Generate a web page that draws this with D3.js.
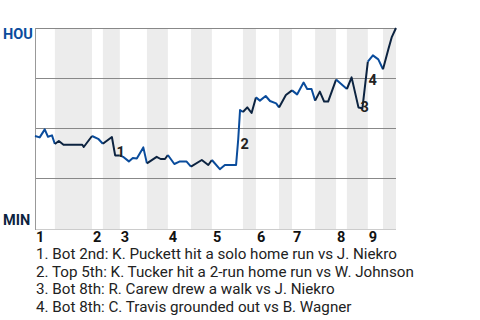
<!DOCTYPE html>
<html>
<head>
<meta charset="utf-8">
<script src="https://cdn.jsdelivr.net/npm/d3@7"></script>
<style>
  body { margin: 0; background: #fff; }
  text { font-family: Roboto, "Noto Sans", sans-serif; }
</style>
</head>
<body>
<div id="chart"></div>
<script>
(function() {
	// game progress (% of the game) and Houston win probability (%) for each play
	var progress = [
		0, 1.3, 2.7, 3.6, 4.7, 5.5,
		6.6, 7.9, 10.5, 13.1, 13.5, 15.8,
		17.5, 18.8,
		21.3, 22.2, 23.5,
		24.4, 26.0, 27.1, 28.2, 30.0, 31.0,
		33.7, 34.8, 36.0, 36.8,
		38.6, 40.0, 42.0, 43.2,
		46.2, 48.0, 49.0,
		51.2, 52.6, 55.7, 56.3, 56.8, 57.6,
		58.8, 60.0, 61.2,
		62.3, 63.9, 65.1, 66.8, 67.6,
		69.5, 71.2,
		72.6, 74.4, 75.4, 76.6, 77.6,
		78.9, 80.1, 81.2, 83.4,
		84.5, 86.4,
		87.7, 89.6, 90.7, 92.2,
		93.6, 95.1, 96.4,
		97.9, 98.8, 100
	];
	var houWinProb = [
		46, 45.3, 49.3, 45.6, 46.3, 42,
		43.5, 41.6, 41.6, 41.6, 40.5, 46,
		44.6, 42.1,
		45.5, 36.3, 36.3,
		35.6, 33.3, 35, 34.8, 40.3, 32.3,
		35.6, 34.5, 34.5, 36.5,
		32, 33.2, 33.2, 30.7,
		34, 31.5, 34,
		29.4, 31.5, 31.5, 44.5, 59, 58,
		60.3, 57.5, 65.3,
		63.7, 66, 63.5, 62.3, 60.3,
		66.5, 68.8,
		66.8, 72.7, 69.5, 69.5, 63.7,
		68.2, 63.2, 63.2, 74.2,
		72.5, 69.5,
		75.3, 60.3, 59.9, 83.2,
		86.3, 84.3, 79.4,
		89.5, 95.3, 100
	];

	// start of every half inning (top 1st, bot 1st, top 2nd ...), in game progress
	var halfInningStarts = [0, 5.5, 15.8, 18.8, 23.5, 31.0, 36.8, 43.2, 49.0,
		57.6, 61.2, 67.6, 71.2, 77.6, 83.4, 86.4, 92.2, 96.4];
	var inningLabels = ["1", "2", "3", "4", "5", "6", "7", "8", "9"];

	var gridTicks = [25, 50, 75, 100];

	var noteLabels = ["1", "2", "3", "4"];
	var noteProgress = [22.6, 56.9, 90.2, 92.4];
	var noteWinProb = [35.5, 39.5, 58.2, 71.5];
	var noteTexts = [
		"1. Bot 2nd: K. Puckett hit a solo home run vs J. Niekro",
		"2. Top 5th: K. Tucker hit a 2-run home run vs W. Johnson",
		"3. Bot 8th: R. Carew drew a walk vs J. Niekro",
		"4. Bot 8th: C. Travis grounded out vs B. Wagner"
	];

	var houColor = "#0a4c9c",
		minColor = "#0c2340";

	var margin = { top: 28, left: 35, right: 84, bottom: 92 },
		width = 480 - margin.left - margin.right,
		height = 320 - margin.top - margin.bottom;

	var svg = d3.select("#chart")
				.append("svg")
				.attr("width", 480)
				.attr("height", 320);

	var g = svg.append("g")
				.attr("transform", "translate(" + margin.left + "," + margin.top + ")");

	var xScale = d3.scaleLinear()
					.domain([0, 100])
					.range([0, width]);

	var yScale = d3.scaleLinear()
					.domain([0, 100])
					.range([200, 0]);

	var halves = halfInningStarts.map(function(s, i) {
		return {
			start: s,
			end: i < halfInningStarts.length - 1 ? halfInningStarts[i + 1] : 100,
			bottom: i % 2 === 1
		};
	});

	// shaded bottom halves
	g.selectAll("rect.band")
		.data(halves.filter(function(d) { return d.bottom; }))
		.enter()
		.append("rect")
		.attr("class", "band")
		.attr("x", function(d) { return xScale(d.start); })
		.attr("width", function(d) { return xScale(d.end) - xScale(d.start); })
		.attr("y", 0)
		.attr("height", 201)
		.attr("fill", "#ececec");

	// horizontal grid
	g.selectAll("line.grid")
		.data(gridTicks)
		.enter()
		.append("line")
		.attr("x1", 0)
		.attr("x2", width)
		.attr("y1", function(d) { return Math.round(yScale(d)) + 0.5; })
		.attr("y2", function(d) { return Math.round(yScale(d)) + 0.5; })
		.attr("stroke", "#888")
		.attr("stroke-width", 1);

	g.append("line")
		.attr("x1", 0).attr("x2", width)
		.attr("y1", 201.5).attr("y2", 201.5)
		.attr("stroke", "#ccc");

	g.append("line")
		.attr("x1", 0.5).attr("x2", 0.5)
		.attr("y1", 0).attr("y2", 202)
		.attr("stroke", "#999");

	// win probability line, one piece per half inning
	var points = progress.map(function(p, i) { return { p: p, wp: houWinProb[i] }; });

	var line = d3.line()
				.x(function(d) { return xScale(d.p); })
				.y(function(d) { return yScale(d.wp); });

	g.selectAll("path.wp")
		.data(halves)
		.enter()
		.append("path")
		.attr("class", "wp")
		.attr("d", function(h) {
			return line(points.filter(function(d) { return d.p >= h.start && d.p <= h.end; }));
		})
		.attr("fill", "none")
		.attr("stroke", function(h) { return h.bottom ? minColor : houColor; })
		.attr("stroke-width", 2)
		.attr("stroke-linejoin", "round");

	// note numbers on the line
	g.selectAll("text.note")
		.data(noteLabels)
		.enter()
		.append("text")
		.attr("x", function(d, i) { return xScale(noteProgress[i]); })
		.attr("y", function(d, i) { return yScale(noteWinProb[i]); })
		.attr("font-size", 14.5)
		.attr("font-weight", "bold")
		.attr("fill", "#222")
		.text(function(d) { return d; });

	// inning labels at the start of each top half
	g.selectAll("text.inning")
		.data(inningLabels)
		.enter()
		.append("text")
		.attr("x", function(d, i) { return xScale(halfInningStarts[i * 2]) + 1; })
		.attr("y", 214)
		.attr("font-size", 14.5)
		.attr("font-weight", "bold")
		.attr("fill", "#111")
		.text(function(d) { return d; });

	// team labels
	svg.append("text")
		.attr("x", 3).attr("y", 38.5)
		.attr("font-size", 14.5).attr("font-weight", "bold")
		.attr("fill", houColor)
		.text("HOU");

	svg.append("text")
		.attr("x", 3).attr("y", 225)
		.attr("font-size", 14.5).attr("font-weight", "bold")
		.attr("fill", minColor)
		.text("MIN");

	// notes below the chart
	svg.selectAll("text.legend")
		.data(noteTexts)
		.enter()
		.append("text")
		.attr("x", 36)
		.attr("y", function(d, i) { return 259 + i * 17.7; })
		.attr("font-size", 15.2)
		.attr("fill", "#222")
		.text(function(d) { return d; });
})();
</script>
</body>
</html>
